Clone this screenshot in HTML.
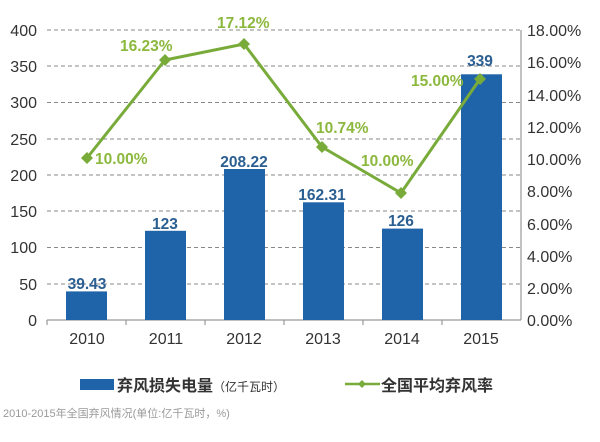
<!DOCTYPE html>
<html><head><meta charset="utf-8"><style>
body{margin:0;background:#fff;width:600px;height:437px;overflow:hidden}
text{font-family:"Liberation Sans","Noto Sans CJK SC",sans-serif}
</style></head><body>
<svg width="600" height="437" viewBox="0 0 600 437">
<g stroke="#888" stroke-dasharray="4,3" stroke-width="1">
<line x1="47" x2="520" y1="30" y2="30"/><line x1="47" x2="520" y1="66" y2="66"/>
<line x1="47" x2="520" y1="102.5" y2="102.5"/><line x1="47" x2="520" y1="139" y2="139"/>
<line x1="47" x2="520" y1="175" y2="175"/><line x1="47" x2="520" y1="211" y2="211"/>
<line x1="47" x2="520" y1="247.5" y2="247.5"/><line x1="47" x2="520" y1="284" y2="284"/>
</g>
<g stroke="#999" stroke-width="1.2">
<line x1="47" y1="320" x2="521" y2="320"/><line x1="521" y1="30" x2="521" y2="320"/>
<line x1="126" y1="320" x2="126" y2="325"/><line x1="205" y1="320" x2="205" y2="325"/><line x1="284" y1="320" x2="284" y2="325"/><line x1="363" y1="320" x2="363" y2="325"/><line x1="442" y1="320" x2="442" y2="325"/><line x1="47" y1="320" x2="47" y2="325"/>
</g>
<g fill="#1f63a8">
<rect x="66" y="291.4" width="41" height="28.6"/>
<rect x="145" y="230.8" width="41" height="89.2"/>
<rect x="224" y="169" width="41" height="151"/>
<rect x="303" y="202.3" width="41" height="117.7"/>
<rect x="382" y="228.6" width="41" height="91.4"/>
<rect x="461" y="74.3" width="41" height="245.7"/>
</g>
<g font-size="15.5" font-weight="bold" fill="#2b5f92" text-anchor="middle">
<text x="87" y="289">39.43</text><text x="165" y="229">123</text><text x="244" y="167">208.22</text>
<text x="322" y="200">162.31</text><text x="401" y="226">126</text><text x="480" y="66">339</text>
</g>
<polyline points="87,158 165,60 244,44 322,147 401,193 480,79" fill="none" stroke="#78ab3a" stroke-width="3"/>
<g fill="#78ab3a">
<path d="M87 152l6 6-6 6-6-6z"/><path d="M165 54l6 6-6 6-6-6z"/><path d="M244 38l6 6-6 6-6-6z"/>
<path d="M322 141l6 6-6 6-6-6z"/><path d="M401 187l6 6-6 6-6-6z"/><path d="M480 73l6 6-6 6-6-6z"/>
</g>
<g font-size="15.5" font-weight="bold" fill="#8cb83e">
<text x="95" y="164">10.00%</text><text x="120" y="51">16.23%</text><text x="217" y="28">17.12%</text>
<text x="316" y="133">10.74%</text><text x="361" y="166">10.00%</text><text x="411" y="86">15.00%</text>
</g>
<g font-size="16" fill="#333" text-anchor="end">
<text x="37" y="36">400</text><text x="37" y="72">350</text><text x="37" y="108">300</text><text x="37" y="145">250</text>
<text x="37" y="181">200</text><text x="37" y="217">150</text><text x="37" y="253">100</text><text x="37" y="290">50</text><text x="37" y="326">0</text>
</g>
<g font-size="16" fill="#333">
<text x="527" y="36">18.00%</text><text x="527" y="68">16.00%</text><text x="527" y="101">14.00%</text><text x="527" y="133">12.00%</text>
<text x="527" y="165">10.00%</text><text x="527" y="197">8.00%</text><text x="527" y="230">6.00%</text><text x="527" y="262">4.00%</text>
<text x="527" y="294">2.00%</text><text x="527" y="326">0.00%</text>
</g>
<g font-size="16" fill="#333" text-anchor="middle">
<text x="87" y="344">2010</text><text x="166" y="344">2011</text><text x="244" y="344">2012</text>
<text x="323" y="344">2013</text><text x="402" y="344">2014</text><text x="481" y="344">2015</text>
</g>
<rect x="80" y="379" width="34" height="11" fill="#1f63a8"/>
<text x="117" y="391" font-size="16" fill="#333" font-weight="bold">弃风损失电量<tspan font-size="12" font-weight="normal">（亿千瓦时）</tspan></text>
<line x1="345" y1="384" x2="380" y2="384" stroke="#78ab3a" stroke-width="2.5"/>
<path d="M362 380l4 4-4 4-4-4z" fill="#78ab3a"/>
<text x="381" y="391" font-size="16" fill="#333" font-weight="bold">全国平均弃风率</text>
<text x="3" y="417" font-size="11" fill="#999">2010-2015年全国弃风情况(单位:亿千瓦时，%)</text>
</svg>
</body></html>
